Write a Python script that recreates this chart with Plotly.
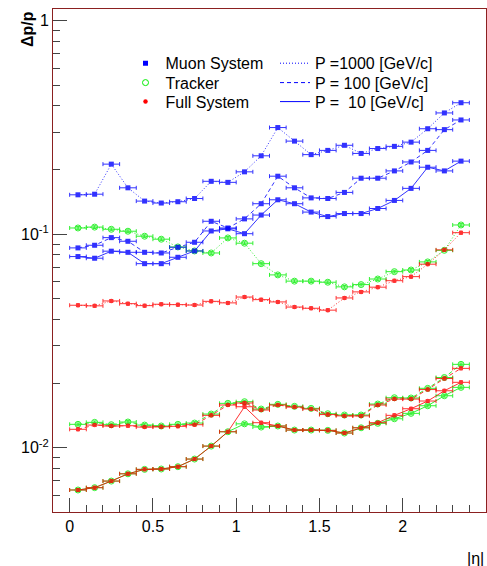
import plotly.graph_objects as go

# |eta| bin centres
eta = [0.05, 0.15, 0.25, 0.35, 0.45, 0.55, 0.65, 0.75, 0.85, 0.95, 1.05, 1.15,
       1.25, 1.35, 1.45, 1.55, 1.65, 1.75, 1.85, 1.95, 2.05, 2.15, 2.25, 2.35]
eta_half_width = [0.05] * len(eta)

# Momentum resolution dp/p, muon system only
muon_1000 = [0.153, 0.154, 0.213, 0.165, 0.143, 0.140, 0.142, 0.147, 0.177, 0.175, 0.196, 0.233,
             0.316, 0.273, 0.236, 0.247, 0.261, 0.239, 0.252, 0.258, 0.270, 0.312, 0.370, 0.413]
muon_100 = [0.0863, 0.0888, 0.0964, 0.0927, 0.0823, 0.0817, 0.0869, 0.0917, 0.115, 0.107, 0.118, 0.139,
            0.187, 0.165, 0.148, 0.147, 0.157, 0.183, 0.183, 0.198, 0.218, 0.247, 0.309, 0.343]
muon_10 = [0.0786, 0.0772, 0.0833, 0.0823, 0.0728, 0.0728, 0.0780, 0.0835, 0.1036, 0.106, 0.1006, 0.123,
           0.145, 0.139, 0.127, 0.121, 0.125, 0.125, 0.132, 0.144, 0.164, 0.206, 0.198, 0.220]

# Tracker only
tracker_1000 = [0.107, 0.108, 0.1055, 0.1033, 0.0979, 0.0948, 0.0872, 0.0835, 0.0817, 0.0961, 0.0908, 0.0728,
                0.0645, 0.0603, 0.0603, 0.0596, 0.0567, 0.0581, 0.0617, 0.0668, 0.0680, 0.0742, 0.0841, 0.1105]
tracker_100 = [0.01287, 0.01315, 0.01282, 0.0132, 0.01277, 0.01264, 0.01287, 0.01305, 0.01438, 0.01614, 0.01643, 0.01518,
               0.01597, 0.01563, 0.01529, 0.01443, 0.01423, 0.01423, 0.01602, 0.01715, 0.0171, 0.01898, 0.02133, 0.02458]
tracker_10 = [0.00634, 0.0065, 0.00698, 0.00755, 0.00792, 0.00795, 0.00815, 0.00885, 0.01018, 0.01188, 0.01294, 0.0125,
              0.01264, 0.0121, 0.0121, 0.01206, 0.01172, 0.0124, 0.01301, 0.01367, 0.01449, 0.01573, 0.01752, 0.01918]

# Full system (muon + tracker)
full_1000 = [0.0465, 0.0462, 0.0487, 0.0473, 0.0463, 0.0470, 0.0468, 0.0466, 0.0485, 0.0477, 0.0508, 0.0494,
             0.0482, 0.0456, 0.0450, 0.0441, 0.0503, 0.0537, 0.0565, 0.0606, 0.0633, 0.0724, 0.0845, 0.1017]
full_100 = [0.0122, 0.01277, 0.01264, 0.01268, 0.0125, 0.01254, 0.0126, 0.01282, 0.01418, 0.01585, 0.0162, 0.01502,
            0.01585, 0.0155, 0.01518, 0.0143, 0.0141, 0.0141, 0.01585, 0.0169, 0.0169, 0.01873, 0.0211, 0.02354]
full_10 = [0.00634, 0.0065, 0.00698, 0.00755, 0.00792, 0.00795, 0.00815, 0.00885, 0.01018, 0.01188, 0.01556, 0.0131,
           0.01264, 0.0121, 0.0121, 0.01206, 0.01172, 0.0124, 0.0131, 0.01418, 0.01523, 0.01655, 0.01849, 0.02025]

system_names = ["Muon System", "Tracker", "Full System"]
momentum_labels = ["P =1000 [GeV/c]", "P = 100 [GeV/c]", "P =\u00a0\u00a010 [GeV/c]"]

BLUE = "#0000ff"
GREEN = "#00ee00"
RED = "#ff0000"
FONT = "Liberation Sans, Arial, sans-serif"

styles = {
    "Muon System": dict(color=BLUE, marker=dict(symbol="square", size=5, color=BLUE)),
    "Tracker": dict(color=GREEN, marker=dict(symbol="circle-open", size=6, color=GREEN,
                                             line=dict(width=1, color=GREEN))),
    "Full System": dict(color=RED, marker=dict(symbol="circle", size=4.5, color=RED)),
}
dashes = {1000: "1px,2px", 100: "4px,3px", 10: "solid"}

series = [
    ("Tracker", 1000, tracker_1000), ("Tracker", 100, tracker_100), ("Tracker", 10, tracker_10),
    ("Full System", 1000, full_1000), ("Full System", 100, full_100), ("Full System", 10, full_10),
    ("Muon System", 1000, muon_1000), ("Muon System", 100, muon_100), ("Muon System", 10, muon_10),
]

fig = go.Figure()
for system, p, values in series:
    st = styles[system]
    fig.add_trace(go.Scatter(
        x=eta, y=values, mode="lines+markers",
        line=dict(color=st["color"], width=1, dash=dashes[p]),
        marker=st["marker"], opacity=0.8,
        error_x=dict(type="data", array=eta_half_width, color=st["color"], thickness=1, width=2),
        error_y=dict(type="percent", value=1.5, color=st["color"], thickness=1, width=2),
        showlegend=False, hoverinfo="x+y",
    ))

# Legend: one single-entry legend per row so the rows sit at fixed heights.
# Left column: detector systems (markers); right column: momenta (line styles).
row_tops = [46.3, 65.7, 84.7]          # pixel tops of the legend rows
plot_top, plot_h, plot_left, plot_w = 9, 503, 53, 433
legend_layout = {}
n = 0
for i, name in enumerate(system_names):
    n += 1
    key = "legend" if n == 1 else f"legend{n}"
    fig.add_trace(go.Scatter(x=[None], y=[None], mode="markers", name=name,
                             marker=styles[name]["marker"], legend=key))
    legend_layout[key] = dict(x=(125.5 - plot_left) / plot_w,
                              y=(plot_top + plot_h - row_tops[i]) / plot_h,
                              xanchor="left", yanchor="top", bgcolor="rgba(0,0,0,0)",
                              font=dict(size=16, family=FONT))
for i, (label, p) in enumerate(zip(momentum_labels, [1000, 100, 10])):
    n += 1
    key = f"legend{n}"
    fig.add_trace(go.Scatter(x=[None], y=[None], mode="lines", name=label,
                             line=dict(color=BLUE, width=1, dash=dashes[p]), legend=key))
    legend_layout[key] = dict(x=(275 - plot_left) / plot_w,
                              y=(plot_top + plot_h - row_tops[i]) / plot_h,
                              xanchor="left", yanchor="top", bgcolor="rgba(0,0,0,0)",
                              font=dict(size=16, family=FONT))

minor_logs = [m * 10.0 ** e for e in (-3, -2, -1) for m in range(2, 10)]

frame_color = "#8b2020"
fig.update_layout(
    width=487, height=566,
    margin=dict(l=53, r=1, t=9, b=54),
    paper_bgcolor="white", plot_bgcolor="white",
    font=dict(family=FONT, size=16, color="black"),
    xaxis=dict(range=[-0.1, 2.5], showgrid=False, zeroline=False,
               showline=True, linecolor=frame_color, linewidth=1, mirror=True,
               tickmode="array", tickvals=[0, 0.5, 1, 1.5, 2], ticktext=["0", "0.5", "1", "1.5", "2"],
               ticks="inside", ticklen=14, tickcolor="#444", tickwidth=1,
               minor=dict(ticks="inside", ticklen=7, dtick=0.1, tick0=0, tickcolor="#444"),
               tickfont=dict(size=16)),
    yaxis=dict(type="log", range=[-2.301, 0.055], showgrid=False, zeroline=False,
               showline=True, linecolor=frame_color, linewidth=1, mirror=True,
               tickmode="array", tickvals=[0.01, 0.1, 1],
               ticktext=["10<sup>-2</sup>", "10<sup>-1</sup>", "1"],
               ticks="inside", ticklen=14, tickcolor="#444", tickwidth=1,
               minor=dict(ticks="inside", ticklen=7, tickmode="array", tickvals=minor_logs,
                          tickcolor="#444"),
               tickfont=dict(size=16)),
    annotations=[
        dict(text="<b>\u0394p/p</b>", xref="paper", yref="paper", x=-0.06, y=1.0,
             xanchor="center", yanchor="top", textangle=-90, showarrow=False,
             font=dict(size=16, family=FONT)),
        dict(text="|\u03b7|", xref="paper", yref="paper", x=1.0, y=-0.072,
             xanchor="right", yanchor="top", showarrow=False,
             font=dict(size=16, family=FONT)),
    ],
    **legend_layout,
)

fig.write_html("out.html")
